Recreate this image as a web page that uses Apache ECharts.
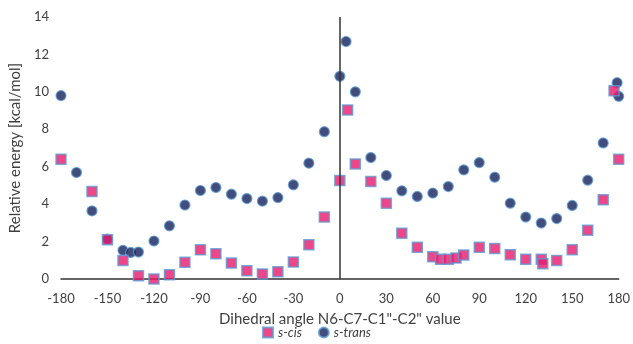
<!DOCTYPE html>
<html>
<head>
<meta charset="utf-8">
<script src="https://cdn.jsdelivr.net/npm/echarts@6/dist/echarts.min.js"></script>
<style>html,body{margin:0;padding:0;background:#fff;}#c{width:633px;height:344px;}</style>
</head>
<body>
<div id="c"></div>
<script>
var xTicks = [-180, -150, -120, -90, -60, -30, 0, 30, 60, 90, 120, 150, 180];
var yTicks = [0, 2, 4, 6, 8, 10, 12, 14];

var cisAngles = [-180, -160, -150, -140, -130, -120, -110, -100, -90, -80, -70, -60, -50, -40, -30, -20, -10, 0, 5, 10, 20, 30, 40, 50, 60, 65, 70, 75, 80, 90, 100, 110, 120, 130, 131, 140, 150, 160, 170, 177, 180];
var cisEnergy = [6.4, 4.67, 2.1, 0.99, 0.18, 0.0, 0.23, 0.89, 1.56, 1.35, 0.85, 0.44, 0.27, 0.39, 0.91, 1.83, 3.31, 5.26, 9.03, 6.15, 5.21, 4.05, 2.45, 1.69, 1.19, 1.05, 1.05, 1.12, 1.28, 1.69, 1.63, 1.30, 1.05, 1.05, 0.82, 0.99, 1.56, 2.61, 4.23, 10.06, 6.4];

var transAngles = [-180, -170, -160, -150, -140, -135, -130, -120, -110, -100, -90, -80, -70, -60, -50, -40, -30, -20, -10, 0, 4, 10, 20, 30, 40, 50, 60, 70, 80, 90, 100, 110, 120, 130, 140, 150, 160, 170, 179, 180];
var transEnergy = [9.8, 5.69, 3.64, 2.13, 1.53, 1.42, 1.44, 2.03, 2.84, 3.95, 4.73, 4.89, 4.53, 4.30, 4.16, 4.35, 5.03, 6.19, 7.87, 10.83, 12.69, 10.0, 6.49, 5.53, 4.71, 4.41, 4.59, 4.94, 5.83, 6.22, 5.44, 4.05, 3.31, 2.99, 3.23, 3.93, 5.28, 7.27, 10.49, 9.76];

function pairs(xs, ys) { return xs.map(function (x, i) { return [x, ys[i]]; }); }

var FONT = 'Lato';
var chart = echarts.init(document.getElementById('c'), null, {renderer: 'canvas'});
chart.setOption({
  animation: false,
  backgroundColor: '#ffffff',
  textStyle: {fontFamily: FONT},
  grid: {left: 61, right: 13, top: 17, bottom: 65},
  legend: {
    bottom: 0,
    left: 'center',
    itemWidth: 10,
    itemHeight: 10,
    itemGap: 16,
    textStyle: {fontFamily: FONT, fontSize: 13, fontStyle: 'italic', color: '#404040'},
    data: [
      {name: 's-cis', icon: 'rect'},
      {name: 's-trans', icon: 'circle'}
    ]
  },
  xAxis: {
    type: 'value',
    min: xTicks[0],
    max: xTicks[xTicks.length - 1],
    interval: 30,
    name: 'Dihedral angle N6-C7-C1"-C2" value',
    nameLocation: 'middle',
    nameGap: 33,
    nameTextStyle: {fontFamily: FONT, fontSize: 15, color: '#404040'},
    axisLine: {onZero: false, lineStyle: {color: '#333333', width: 1.5}},
    axisTick: {show: false},
    splitLine: {show: false},
    axisLabel: {fontFamily: FONT, fontSize: 13, color: '#404040', margin: 13}
  },
  yAxis: {
    type: 'value',
    min: yTicks[0],
    max: yTicks[yTicks.length - 1],
    interval: 2,
    name: 'Relative energy [kcal/mol]',
    nameLocation: 'middle',
    nameGap: 34,
    nameTextStyle: {fontFamily: FONT, fontSize: 15, color: '#404040'},
    axisLine: {show: false},
    axisTick: {show: false},
    splitLine: {show: false},
    axisLabel: {fontFamily: FONT, fontSize: 13, color: '#404040', margin: 12}
  },
  series: [
    {
      name: 's-trans',
      type: 'scatter',
      symbol: 'circle',
      symbolSize: 10,
      z: 2,
      itemStyle: {color: '#14215a', borderColor: '#5b9bd5', borderWidth: 1.2},
      data: pairs(transAngles, transEnergy),
      markLine: {
        silent: true,
        symbol: 'none',
        label: {show: false},
        lineStyle: {color: '#333333', width: 1.5, type: 'solid'},
        data: [{xAxis: 0}]
      }
    },
    {
      name: 's-cis',
      type: 'scatter',
      symbol: 'rect',
      symbolSize: 10,
      z: 3,
      itemStyle: {color: '#e8196b', borderColor: '#5b9bd5', borderWidth: 1.5},
      data: pairs(cisAngles, cisEnergy)
    }
  ]
});
</script>
</body>
</html>
